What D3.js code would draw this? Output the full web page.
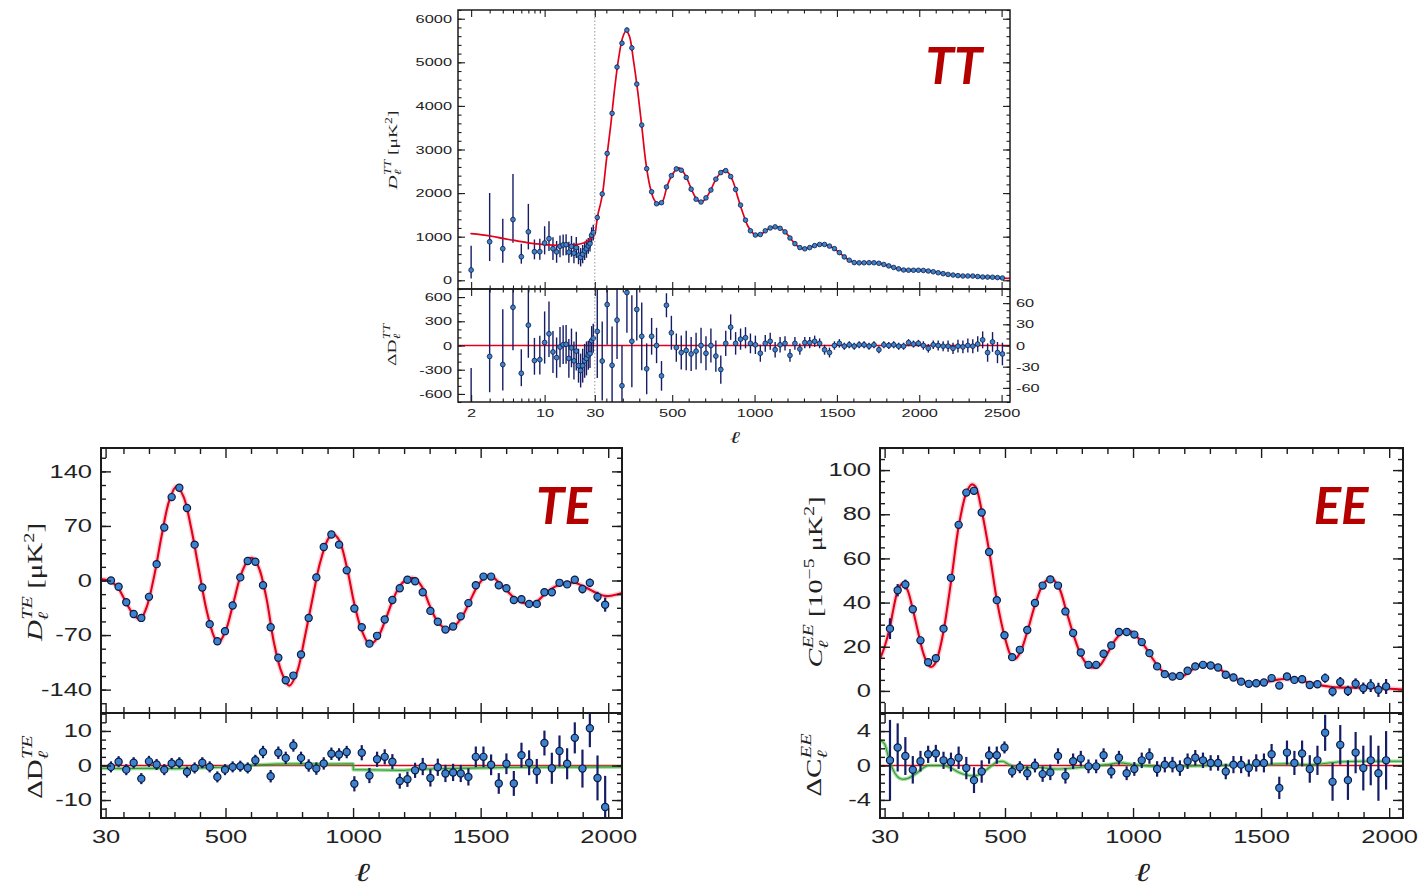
<!DOCTYPE html>
<html>
<head>
<meta charset="utf-8">
<script src="https://cdn.jsdelivr.net/npm/d3@7"></script>
<style>
  html, body { margin: 0; padding: 0; background: #ffffff; }
  svg { display: block; }
</style>
</head>
<body>
<svg id="chart" width="1421" height="886"></svg>
<script>
// ---------------- TT, low multipoles (l = 2..29) ----------------
const ttLowEll = [2,3,4,5,6,7,8,9,10,11,12,13,14,15,16,17,18,19,20,21,22,23,24,25,26,27,28,29];
const ttLowD   = [235,884,724,1393,541,1112,655,655,855,955,725,652,780,810,817,645,778,623,750,578,528,600,675,725,790,840,1035,1095];
const ttLowLo  = [40,441,404,861,381,708,480,470,594,669,465,402,530,570,577,405,538,393,510,368,318,390,465,515,610,660,855,915];
const ttLowHi  = [790,2003,1409,2437,838,1752,936,950,1240,1355,985,902,1030,1050,1057,885,1018,863,990,788,738,810,885,935,970,1020,1215,1275];
const ttLowRes = [-835,-136,-236,473,-344,252,-187,-175,37,145,-80,-150,-20,10,15,-160,-30,-190,-70,-250,-310,-250,-190,-160,-120,-100,60,90];

// ---------------- TT, binned high multipoles ----------------
const ttHighEll = [45,75,105,135,165,195,225,255,285,315,345,375,405,435,465,495,525,555,585,615,645,675,705,735,765,795,825,855,885,915,945,975,1005,1035,1065,1095,1125,1155,1185,1215,1245,1275,1305,1335,1365,1395,1425,1455,1485,1515,1545,1575,1605,1635,1665,1695,1725,1755,1785,1815,1845,1875,1905,1935,1965,1995,2025,2055,2085,2115,2145,2175,2205,2235,2265,2295,2325,2355,2385,2415,2445,2475,2505];
const ttHighD = [1440,1980,2910,3830,4890,5440,5740,5330,4500,3560,2560,2030,1755,1780,2140,2400,2555,2525,2360,2090,1860,1795,1890,2070,2320,2470,2515,2380,2085,1725,1380,1135,1038,1050,1135,1200,1225,1192,1110,970,840,750,722,750,795,822,822,784,726,635,536,460,406,400,401,403,402,390,362,330,294,262,236,231,230,230,226,212,196,173,152,134,120,107,98,98,97,86,76,73,70,62,52];
const ttHighRes = [20,-22,58,-28,36,-57,75,6,51,13,-33,13,0,-43,57,18,-3,-10,-7,-12,-8,0,-11,0,-15,-34,3,26,3,9,11,3,1,-11,3,6,-6,1,3,-14,3,-5,4,4,6,3,-6,-10,0,3,-1,1,-1,1,1,-1,1,-6,1,0,1,-1,-1,4,2,3,0,-4,1,0,-1,-1,-4,-1,-2,0,-1,2,8,-10,5,-10,-12];
const ttHighErr = [66,56,57,55,55,57,57,65,44,48,36,26,25,21,17,24,20,24,28,24,26,25,24,24,22,20,18,18,16,15,15,14,13,12,12,12,11,11,10,9,9,8,8,8,8,7,7,7,6,6,5,5,5,5,5,5,5,5,5,5,5,5,5,5,5,5,6,6,6,7,7,8,8,9,9,10,10,11,12,13,14,15,16];

// ---------------- TT best-fit model ----------------
const ttModelEll = [2,3,4,5,6,7,8,9,10,11,12,13,14,15,17,20,23,25,27,29,30,40,50,65,80,100,125,150,175,200,220,240,265,290,315,340,365,390,415,440,470,500,530,545,565,590,620,650,675,700,730,760,790,815,840,870,900,930,960,990,1010,1040,1070,1100,1130,1160,1190,1220,1250,1280,1305,1330,1360,1390,1420,1450,1480,1510,1540,1570,1600,1630,1660,1700,1730,1760,1790,1820,1850,1880,1910,1940,1970,2000,2030,2060,2090,2120,2150,2180,2210,2240,2270,2300,2330,2360,2390,2420,2450,2480,2510,2550];
const ttModelD = [1070,1020,960,920,885,860,842,830,818,810,805,802,800,800,805,820,850,885,940,1005,1050,1290,1530,1760,2070,2740,3500,4380,5100,5580,5720,5600,5040,4350,3540,2700,2150,1850,1745,1800,2170,2420,2560,2575,2500,2330,2060,1850,1790,1860,2040,2280,2450,2525,2470,2260,1880,1530,1240,1080,1035,1055,1145,1205,1228,1185,1095,950,820,740,720,745,790,820,825,792,735,648,552,472,415,400,400,404,402,388,358,325,290,258,236,231,230,231,224,210,193,170,150,132,118,106,98,98,96,85,76,72,69,60,51,44];

// ---------------- TE / EE binned multipoles ----------------
const polEll = [51,81,111,140,170,200,230,260,289,319,349,379,409,438,468,498,528,558,587,617,647,677,707,736,766,796,826,856,885,915,945,975,1005,1034,1064,1094,1124,1154,1183,1213,1243,1273,1303,1332,1362,1392,1422,1452,1481,1511,1541,1571,1601,1630,1660,1690,1720,1750,1779,1809,1839,1869,1899,1928,1958,1988];

const teD = [0,-8,-28,-43,-48,-21,21,68,107,119,93,46,-9,-56,-78,-65,-32,4,25,24,-6,-60,-99,-128,-122,-95,-48,4,43,59,46,13,-36,-60,-81,-71,-50,-25,-10,1,-1,-15,-39,-53,-63,-59,-46,-29,-6,5,5,-6,-10,-25,-24,-30,-30,-15,-15,-3,-5,1,-11,-3,-21,-31];
const teRes = [-0.4,1.1,-1.2,0.8,-3.8,1.2,0.3,-1.2,0.6,0.8,-1.9,-0.7,0.8,-0.4,-3.3,-1.2,-0.4,-0.2,-0.7,1.5,3.9,-3.1,3.7,2.2,5.8,2.2,0,-0.9,0.6,3.4,3.2,3.9,-5.3,3.7,-2.9,1.8,2.5,1.1,-4.5,-4.0,-1.4,-0.3,-3.6,-0.5,-2.3,-2.0,-2.3,-3.3,2.5,2.5,0.2,-5.2,0.5,-5.2,3.0,0.8,-1.7,6.5,-0.8,4.2,0.5,8.0,-0.9,10.8,-3.6,-12.0];
const teErr = [1.6,1.6,1.6,1.6,1.6,1.6,1.6,1.6,1.6,1.6,1.6,1.6,1.6,1.6,1.6,1.6,1.6,1.6,1.6,1.6,1.8,1.8,1.8,1.8,1.8,1.8,1.8,1.8,1.8,1.8,1.8,1.8,2.2,2.2,2.2,2.2,2.2,2.2,2.2,2.2,2.2,2.5,2.5,2.5,2.5,2.5,2.5,2.5,3.0,3.0,3.0,3.0,3.0,3.6,3.6,3.6,3.6,3.6,4.5,4.5,4.5,4.5,5.5,5.5,6.5,9.0];

const eeC = [28.2,45.6,48.2,37,22.9,13,14.8,28.2,51.2,75.2,89.8,90.6,80.8,62.9,41.1,25.2,15.3,18.6,27.6,39.8,47.7,50.5,47.7,36,26.2,17.4,11.8,11.8,16.8,20.6,26.7,26.7,25.5,22.1,17.1,11.1,7.6,6.5,6.8,9.1,11.1,11.8,11.5,10.6,7.3,6.1,4.2,3.2,3.5,3.8,5.8,2.4,6.5,5.0,5.3,2.7,3.0,5.8,-0.3,4.0,0.0,3.3,1.2,2.4,0.5,2.0];
const eeRes = [0.6,2.1,1.1,-0.5,0.5,1.3,1.4,0.6,0.4,0.9,-0.3,-1.7,-0.7,1.2,1.2,2.1,-0.7,-0.2,-0.9,0.0,-1.0,-0.8,1.1,-1.2,0.5,0.8,-0.1,-0.1,1.2,-0.7,0.9,-0.9,-0.4,0.6,1.1,-0.4,0.1,0.1,-0.3,0.5,0.9,0.6,0.3,0.3,-0.7,0.1,0.1,-0.3,0.3,0.3,1.3,-2.6,1.5,0.3,1.4,-0.4,0.6,3.8,-1.9,2.4,-1.7,1.5,-0.3,0.6,-0.9,0.6];
const eeErr = [4.7,2.8,2.2,1.6,1.2,1.0,1.0,1.0,1.1,1.3,1.3,1.5,1.3,1.0,1.0,0.7,0.7,0.7,0.8,0.8,0.9,0.9,0.9,0.9,0.9,0.9,0.8,0.8,0.8,0.8,0.8,0.8,0.8,0.9,0.9,0.9,0.9,0.9,0.9,0.9,0.9,0.9,0.9,0.9,0.9,1.0,1.0,1.0,1.0,1.1,1.2,1.3,1.4,1.4,1.5,1.6,1.7,2.1,2.2,2.3,2.3,2.4,2.6,2.9,3.2,3.4];

// ---------------- TE / EE best-fit models ----------------
const teModelEll = [12,30,50,80,110,140,165,190,220,250,280,308,335,365,395,425,455,472,500,530,560,590,605,630,660,690,720,750,780,810,840,870,900,920,945,975,1005,1035,1065,1095,1125,1155,1185,1215,1240,1270,1300,1330,1370,1400,1430,1460,1490,1520,1540,1570,1600,1630,1660,1690,1720,1750,1780,1810,1840,1870,1900,1930,1960,1990,2020,2054];
const teModelD = [2,1,-1,-10,-28,-44,-50,-35,5,58,103,121,108,68,15,-37,-72,-80,-65,-30,7,27,29,17,-22,-80,-118,-135,-118,-74,-25,22,52,60,52,18,-30,-65,-82,-74,-52,-26,-6,2,3,-8,-32,-52,-63,-58,-45,-25,-6,5,6,-2,-12,-22,-28,-30,-27,-18,-10,-5,-3,-3,-7,-12,-17,-20,-19,-16];
const eeModelEll = [12,30,50,65,80,95,105,120,140,160,180,200,212,225,240,260,290,320,350,370,385,410,440,470,500,525,540,560,590,620,650,680,710,740,770,800,830,850,870,900,930,960,990,1020,1050,1080,1110,1140,1170,1200,1230,1260,1290,1320,1350,1380,1410,1440,1470,1500,1530,1560,1590,1620,1650,1680,1710,1740,1770,1800,1850,1900,1950,2000,2054];
const eeModelC = [14.5,20,28.5,37.5,45,48.3,48.5,45.5,37,27,17.5,11.8,10.8,12,16.5,27,50,75,90,93.5,92.5,81,62,40,24,15.5,14.5,17.5,28,40,48.5,51,47,36,24.5,15.5,11,10.5,11.5,17,23,26.5,27,24,19.5,14,9.5,7,6.2,7,9.5,11.5,12,11.3,9,6.8,5,3.8,3.3,3.5,4.3,5,5.4,5.3,4.8,4,3.2,2.4,1.9,1.6,1.5,1.5,1.3,1.0,0.6];

// alternative-model residual curves (green)
const teAltEll = [13,100,200,300,400,480,540,600,700,800,900,1000,1001,1100,1200,1250,1350,1500,1700,2054];
const teAltRes = [-0.8,-0.9,-0.8,-0.9,-0.7,-0.5,-0.2,0.1,0.4,0.5,0.4,0.5,-1.2,-1.3,-1.4,-1.1,-0.9,-0.7,-0.5,-0.4];
const eeAltEll = [13,30,45,60,80,100,120,150,180,200,260,290,320,350,380,410,440,470,490,510,530,560,620,700,800,900,950,1000,1100,1300,1500,1600,1700,1800,1900,2000,2054];
const eeAltRes = [2.9,2.5,1.0,-0.3,-1.3,-1.6,-1.5,-1.0,-0.3,0,0,-0.3,-0.8,-1.1,-1.2,-0.9,-0.2,0.4,0.5,0.2,-0.1,-0.3,-0.2,-0.4,-0.2,0.1,0.3,0.1,-0.1,0,0.1,0.2,0.1,0.4,0.5,0.5,0.5];

// ---------------- tick values ----------------
const ttYTicks = [0,1000,2000,3000,4000,5000,6000];
const ttResLTicks = [-600,-300,0,300,600];
const ttResRTicks = [-60,-30,0,30,60];
const ttXLogMajor = [2,10];
const ttXLogMinor = [3,4,5,6,7,8,9,20];
const ttXLinMajor = [30,500,1000,1500,2000,2500];
const polXMajor = [30,500,1000,1500,2000];
const teYTicks = [-140,-70,0,70,140];
const teResTicks = [-10,0,10];
const eeYTicks = [0,20,40,60,80,100];
const eeResTicks = [-4,0,4];

// ---------------- style ----------------
const INK = '#1b1b1b';
const TXT = '#222222';
const RED = '#e2001a';
const GREEN = '#3fbf3f';
const BAR = '#161d66';
const DOT = '#3d82cc';
const DOT_EDGE = '#0c1a44';
const TITLE = '#b50000';
const STRETCH = 1.45;
const SANS = '"Liberation Sans", Arial, Helvetica, sans-serif';
const SERIF = '"Liberation Serif", "DejaVu Serif", serif';

const TT = {left: 458, right: 1010, top: 10, mid: 289, bottom: 402, cut: 594.8};
const TE = {left: 101, right: 622, top: 448, mid: 713, bottom: 818};
const EE = {left: 880, right: 1403, top: 448, mid: 713, bottom: 818};

const svg = d3.select('#chart');
const defs = svg.append('defs');

// ---------------- scales ----------------
const ttXlog = d3.scaleLog().domain([1.5, 30]).range([TT.left, TT.cut]);
const ttXlin = d3.scaleLinear().domain([30, 2551]).range([TT.cut, TT.right]);
const ttX = l => (l < 30 ? ttXlog(l) : ttXlin(l));
const ttY = d3.scaleLinear().domain([-200, 6200]).range([TT.mid, TT.top]);
const ttRL = d3.scaleLinear().domain([-700, 700]).range([TT.bottom, TT.mid]);
const ttRR = d3.scaleLinear().domain([-80, 80]).range([TT.bottom, TT.mid]);

const teX = d3.scaleLinear().domain([12, 2054]).range([TE.left, TE.right]);
const teY = d3.scaleLinear().domain([-170, 170]).range([TE.mid, TE.top]);
const teR = d3.scaleLinear().domain([-15.2, 15.2]).range([TE.bottom, TE.mid]);

const eeX = d3.scaleLinear().domain([12, 2054]).range([EE.left, EE.right]);
const eeY = d3.scaleLinear().domain([-10, 110]).range([EE.mid, EE.top]);
const eeR = d3.scaleLinear().domain([-6.1, 6.1]).range([EE.bottom, EE.mid]);

// ---------------- helpers ----------------
function clipGroup(id, x0, y0, x1, y1) {
  defs.append('clipPath').attr('id', id).append('rect')
    .attr('x', x0).attr('y', y0).attr('width', x1 - x0).attr('height', y1 - y0);
  return svg.append('g').attr('clip-path', `url(#${id})`);
}

function curve(g, xs, ys, xf, yf, color, width, curveType, opacity) {
  const idx = d3.range(xs.length);
  g.append('path')
    .attr('d', d3.line().curve(curveType || d3.curveCatmullRom.alpha(0.5))
      .x(i => xf(xs[i])).y(i => yf(ys[i]))(idx))
    .attr('fill', 'none').attr('stroke', color).attr('stroke-width', width)
    .attr('stroke-linejoin', 'round').attr('stroke-linecap', 'round')
    .attr('opacity', opacity == null ? 1 : opacity);
}

function errorBars(g, xs, lo, hi, xf, yf, width) {
  g.append('g').selectAll('line').data(xs).join('line')
    .attr('x1', d => xf(d)).attr('x2', d => xf(d))
    .attr('y1', (d, i) => yf(lo[i])).attr('y2', (d, i) => yf(hi[i]))
    .attr('stroke', BAR).attr('stroke-width', width);
}

function markers(g, xs, ys, xf, yf, r, sw) {
  g.append('g').selectAll('circle').data(xs).join('circle')
    .attr('cx', d => xf(d)).attr('cy', (d, i) => yf(ys[i]))
    .attr('r', r).attr('fill', DOT).attr('stroke', DOT_EDGE).attr('stroke-width', sw);
}

function hline(g, x0, x1, y, color, width) {
  g.append('line').attr('x1', x0).attr('x2', x1).attr('y1', y).attr('y2', y)
    .attr('stroke', color).attr('stroke-width', width);
}

// ticks pointing into the frame, optional stretched labels
function ticks(axisGen, scale, vals, len, o) {
  o = o || {};
  const ax = axisGen(scale).tickValues(vals).tickSizeInner(-len).tickSizeOuter(0)
    .tickPadding(o.pad || 0).tickFormat(o.fmt || (() => ''));
  const s = svg.append('g').attr('transform', o.tr || null).call(ax);
  s.select('.domain').remove();
  s.selectAll('.tick line').attr('stroke', INK).attr('stroke-width', o.w || 1.1);
  s.attr('font-family', SANS).attr('font-size', o.fs || 10);
  s.selectAll('.tick text').attr('fill', TXT).attr('transform', `scale(${STRETCH},1)`);
  return s;
}

function frame(x0, y0, x1, y1, w) {
  svg.append('rect').attr('x', x0).attr('y', y0).attr('width', x1 - x0).attr('height', y1 - y0)
    .attr('fill', 'none').attr('stroke', INK).attr('stroke-width', w);
}

// rotated / stretched math label built from pieces
function mathLabel(x, y, rot, size, parts, anchor) {
  const t = svg.append('text')
    .attr('transform', `translate(${x},${y}) rotate(${rot}) scale(${STRETCH},1)`)
    .attr('text-anchor', anchor || 'middle')
    .attr('font-family', SERIF).attr('font-size', size).attr('fill', TXT);
  parts.forEach(p => {
    const ts = t.append('tspan').text(p.t);
    if (p.it) ts.attr('font-style', 'italic');
    if (p.s) ts.attr('font-size', size * p.s);
    if (p.dy) ts.attr('dy', size * p.dy);
    if (p.dx) ts.attr('dx', size * p.dx);
  });
}

function title(x, y, txt) {
  svg.append('text').attr('x', x).attr('y', y).attr('text-anchor', 'middle')
    .attr('font-family', 'Lato, "Open Sans", sans-serif').attr('font-weight', 700)
    .attr('font-style', 'italic').attr('font-size', 51).attr('fill', TITLE).text(txt);
}

const fmt = d => String(d);

// =====================================================================
// TT
// =====================================================================
{
  const gMain = clipGroup('clip-tt-main', TT.left, TT.top, TT.right, TT.mid);
  const gRes = clipGroup('clip-tt-res', TT.left, TT.mid, TT.right, TT.bottom);

  // split at l = 30
  svg.append('line').attr('x1', ttX(30)).attr('x2', ttX(30)).attr('y1', TT.top).attr('y2', TT.bottom)
    .attr('stroke', '#9a9a9a').attr('stroke-width', 1).attr('stroke-dasharray', '1.5,2');

  // main
  errorBars(gMain, ttLowEll, ttLowLo, ttLowHi, ttX, ttY, 1.4);
  errorBars(gMain, ttHighEll, ttHighD.map((d, i) => d - ttHighErr[i]), ttHighD.map((d, i) => d + ttHighErr[i]), ttX, ttY, 1.3);
  curve(gMain, ttModelEll, ttModelD, ttX, ttY, RED, 1.7);
  markers(gMain, ttLowEll, ttLowD, ttX, ttY, 2.4, 0.8);
  markers(gMain, ttHighEll, ttHighD, ttX, ttY, 2.3, 0.8);

  // residuals: left scale below l=30, right scale above
  hline(gRes, TT.left, TT.right, ttRL(0), RED, 1.6);
  errorBars(gRes, ttLowEll, ttLowRes.map((r, i) => r + ttLowLo[i] - ttLowD[i]), ttLowRes.map((r, i) => r + ttLowHi[i] - ttLowD[i]), ttX, ttRL, 1.4);
  errorBars(gRes, ttHighEll, ttHighRes.map((r, i) => r - ttHighErr[i]), ttHighRes.map((r, i) => r + ttHighErr[i]), ttX, ttRR, 1.4);
  markers(gRes, ttLowEll, ttLowRes, ttX, ttRL, 2.4, 0.8);
  markers(gRes, ttHighEll, ttHighRes, ttX, ttRR, 2.4, 0.8);

  frame(TT.left, TT.top, TT.right, TT.mid, 1.5);
  frame(TT.left, TT.mid, TT.right, TT.bottom, 1.5);

  const FS = 11.3, PAD = 6 / STRETCH;
  // y ticks, main
  ticks(d3.axisLeft, ttY, ttYTicks, 7, {tr: `translate(${TT.left},0)`, fmt, fs: FS, pad: PAD});
  ticks(d3.axisLeft, ttY, d3.range(-200, 6201, 200), 3.5, {tr: `translate(${TT.left},0)`});
  ticks(d3.axisRight, ttY, ttYTicks, 7, {tr: `translate(${TT.right},0)`});
  ticks(d3.axisRight, ttY, d3.range(-200, 6201, 200), 3.5, {tr: `translate(${TT.right},0)`});
  // y ticks, residual
  ticks(d3.axisLeft, ttRL, ttResLTicks, 7, {tr: `translate(${TT.left},0)`, fmt, fs: FS, pad: PAD});
  ticks(d3.axisLeft, ttRL, d3.range(-700, 701, 100), 3.5, {tr: `translate(${TT.left},0)`});
  ticks(d3.axisRight, ttRR, ttResRTicks, 7, {tr: `translate(${TT.right},0)`, fmt, fs: FS, pad: PAD});
  ticks(d3.axisRight, ttRR, d3.range(-80, 81, 10), 3.5, {tr: `translate(${TT.right},0)`});

  // x ticks on every horizontal edge
  const linMinor = d3.range(100, 2501, 100).filter(v => v % 500 !== 0);
  [[d3.axisTop, TT.top], [d3.axisBottom, TT.mid], [d3.axisTop, TT.mid]].forEach(([gen, y]) => {
    ticks(gen, ttXlog, ttXLogMajor, 7, {tr: `translate(0,${y})`});
    ticks(gen, ttXlog, ttXLogMinor, 3.5, {tr: `translate(0,${y})`});
    ticks(gen, ttXlin, ttXLinMajor, 7, {tr: `translate(0,${y})`});
    ticks(gen, ttXlin, linMinor, 3.5, {tr: `translate(0,${y})`});
  });
  ticks(d3.axisBottom, ttXlog, ttXLogMajor, 7, {tr: `translate(0,${TT.bottom})`, fmt, fs: FS, pad: 7});
  ticks(d3.axisBottom, ttXlog, ttXLogMinor, 3.5, {tr: `translate(0,${TT.bottom})`});
  ticks(d3.axisBottom, ttXlin, ttXLinMajor, 7, {tr: `translate(0,${TT.bottom})`, fmt, fs: FS, pad: 7});
  ticks(d3.axisBottom, ttXlin, linMinor, 3.5, {tr: `translate(0,${TT.bottom})`});

  // labels
  mathLabel(397, 150, -90, 13.5, [
    {t: 'D', it: true}, {t: 'ℓ', it: true, s: 0.7, dy: 0.3}, {t: 'TT', it: true, s: 0.7, dy: -0.78, dx: -0.28},
    {t: ' [μK', dy: 0.48}, {t: '2', s: 0.7, dy: -0.4}, {t: ']', dy: 0.4}
  ]);
  mathLabel(396, 345, -90, 13.5, [
    {t: 'ΔD', it: false}, {t: 'ℓ', it: true, s: 0.7, dy: 0.3}, {t: 'TT', it: true, s: 0.7, dy: -0.78, dx: -0.28}
  ]);
  mathLabel(735, 443, 0, 17, [{t: 'ℓ', it: true}]);
  title(954, 84, 'TT');
}

// =====================================================================
// shared builder for TE and EE
// =====================================================================
function polPanel(P, id, xS, yS, rS, d) {
  const gMain = clipGroup(`clip-${id}-main`, P.left, P.top, P.right, P.mid);
  const gRes = clipGroup(`clip-${id}-res`, P.left, P.mid, P.right, P.bottom);

  curve(gMain, d.modelEll, d.model, xS, yS, RED, 5, null, 0.18);
  curve(gMain, d.modelEll, d.model, xS, yS, RED, 2.1);
  errorBars(gMain, polEll, d.vals.map((v, i) => v - d.err[i]), d.vals.map((v, i) => v + d.err[i]), xS, yS, 2.2);
  markers(gMain, polEll, d.vals, xS, yS, 3.6, 1.2);

  hline(gRes, P.left, P.right, rS(0), RED, 1.5);
  curve(gRes, d.altEll, d.alt, xS, rS, GREEN, 3.6, d.altCurve, 0.55);
  curve(gRes, d.altEll, d.alt, xS, rS, '#2f8f2f', 1.1, d.altCurve, 0.9);
  errorBars(gRes, polEll, d.res.map((v, i) => v - d.err[i]), d.res.map((v, i) => v + d.err[i]), xS, rS, 2.2);
  markers(gRes, polEll, d.res, xS, rS, 3.6, 1.2);

  frame(P.left, P.top, P.right, P.mid, 2);
  frame(P.left, P.mid, P.right, P.bottom, 2);

  const FS = 17.6, PAD = 9 / STRETCH;
  ticks(d3.axisLeft, yS, d.yTicks, 10, {tr: `translate(${P.left},0)`, fmt, fs: FS, pad: PAD, w: 1.4});
  ticks(d3.axisLeft, yS, d.yMinor, 5, {tr: `translate(${P.left},0)`, w: 1.4});
  ticks(d3.axisRight, yS, d.yTicks, 10, {tr: `translate(${P.right},0)`, w: 1.4});
  ticks(d3.axisRight, yS, d.yMinor, 5, {tr: `translate(${P.right},0)`, w: 1.4});
  ticks(d3.axisLeft, rS, d.rTicks, 10, {tr: `translate(${P.left},0)`, fmt, fs: FS, pad: PAD, w: 1.4});
  ticks(d3.axisLeft, rS, d.rMinor, 5, {tr: `translate(${P.left},0)`, w: 1.4});
  ticks(d3.axisRight, rS, d.rTicks, 10, {tr: `translate(${P.right},0)`, w: 1.4});
  ticks(d3.axisRight, rS, d.rMinor, 5, {tr: `translate(${P.right},0)`, w: 1.4});

  const xMinor = d3.range(100, 2000, 100).filter(v => v % 500 !== 0);
  [[d3.axisTop, P.top], [d3.axisBottom, P.mid], [d3.axisTop, P.mid]].forEach(([gen, y]) => {
    ticks(gen, xS, polXMajor, 10, {tr: `translate(0,${y})`, w: 1.4});
    ticks(gen, xS, xMinor, 6, {tr: `translate(0,${y})`, w: 1.4});
  });
  ticks(d3.axisBottom, xS, polXMajor, 10, {tr: `translate(0,${P.bottom})`, fmt, fs: FS, pad: 13, w: 1.4});
  ticks(d3.axisBottom, xS, xMinor, 6, {tr: `translate(0,${P.bottom})`, w: 1.4});
}

// =====================================================================
// TE
// =====================================================================
polPanel(TE, 'te', teX, teY, teR, {
  modelEll: teModelEll, model: teModelD, vals: teD, res: teRes, err: teErr,
  altEll: teAltEll, alt: teAltRes, altCurve: d3.curveLinear,
  yTicks: teYTicks, yMinor: d3.range(-157.5, 170, 17.5),
  rTicks: teResTicks, rMinor: d3.range(-15, 15.1, 2.5)
});
mathLabel(42, 582, -90, 20, [
  {t: 'D', it: true}, {t: 'ℓ', it: true, s: 0.7, dy: 0.3}, {t: 'TE', it: true, s: 0.7, dy: -0.78, dx: -0.28},
  {t: ' [μK', dy: 0.48}, {t: '2', s: 0.7, dy: -0.4}, {t: ']', dy: 0.4}
]);
mathLabel(42, 767, -90, 20, [
  {t: 'ΔD'}, {t: 'ℓ', it: true, s: 0.7, dy: 0.3}, {t: 'TE', it: true, s: 0.7, dy: -0.78, dx: -0.28}
]);
mathLabel(362, 881, 0, 26, [{t: 'ℓ', it: true}]);
title(564, 524, 'TE');

// =====================================================================
// EE
// =====================================================================
polPanel(EE, 'ee', eeX, eeY, eeR, {
  modelEll: eeModelEll, model: eeModelC, vals: eeC, res: eeRes, err: eeErr,
  altEll: eeAltEll, alt: eeAltRes, altCurve: d3.curveMonotoneX,
  yTicks: eeYTicks, yMinor: d3.range(-10, 110.1, 5),
  rTicks: eeResTicks, rMinor: d3.range(-6, 6.1, 1)
});
mathLabel(822, 582, -90, 19.5, [
  {t: 'C', it: true}, {t: 'ℓ', it: true, s: 0.7, dy: 0.3}, {t: 'EE', it: true, s: 0.7, dy: -0.78, dx: -0.28},
  {t: ' [10', dy: 0.48}, {t: '−5', s: 0.7, dy: -0.4}, {t: ' μK', dy: 0.4}, {t: '2', s: 0.7, dy: -0.4}, {t: ']', dy: 0.4}
]);
mathLabel(821, 765, -90, 20, [
  {t: 'ΔC', it: false}, {t: 'ℓ', it: true, s: 0.7, dy: 0.3}, {t: 'EE', it: true, s: 0.7, dy: -0.78, dx: -0.28}
]);
mathLabel(1142, 881, 0, 26, [{t: 'ℓ', it: true}]);
title(1341, 524, 'EE');
</script>
</body>
</html>
